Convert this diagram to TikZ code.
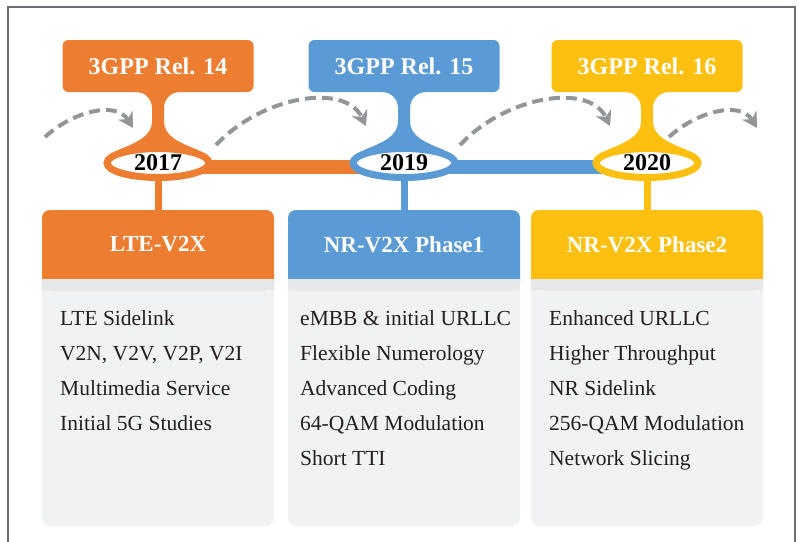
\documentclass[tikz,border=0pt]{standalone}
\usepackage{fontspec}
\setmainfont{Liberation Serif}
\usepackage{tikz}
\usetikzlibrary{shapes.geometric}
\usetikzlibrary{arrows.meta}
\pgfdeclarelayer{background}
\pgfsetlayers{background,main}

\definecolor{relorange}{HTML}{ED7D31}
\definecolor{relblue}{HTML}{5B9BD5}
\definecolor{relyellow}{HTML}{FDC010}
\definecolor{arrowgray}{HTML}{939598}
\definecolor{stripgray}{HTML}{E6E7E8}
\definecolor{cardgray}{HTML}{F1F2F4}
\definecolor{framegray}{HTML}{6D6E71}
\definecolor{textgray}{HTML}{231F20}

\tikzset{
relbox/.style={rectangle, rounded corners=6pt, minimum width=191pt, minimum height=52pt, text=white, font=\bfseries\fontsize{24}{29}\selectfont},
yearnode/.style={ellipse, fill=white, line width=7pt, minimum width=102pt, minimum height=29pt, inner sep=0pt, text=black, font=\bfseries\fontsize{24}{29}\selectfont},
genbox/.style={rectangle, minimum width=232pt, minimum height=69pt, text=white, font=\bfseries\fontsize{23}{28}\selectfont},
feat/.style={anchor=base west, inner sep=0pt, text=textgray, font=\fontsize{21.5}{26}\selectfont},
bar/.style={line width=14pt},
stem/.style={line width=7pt},
flow/.style={arrowgray, line width=4pt, dash pattern=on 11pt off 6pt, -{Stealth[length=15pt, width=17pt, inset=5pt]}}
}
\tikzset{
neck/.pic={
\fill (-22,86) -- (-22,92) .. controls (-13,92) and (-6,99) .. (-6,108) -- (-6,121) .. controls (-6,136) and (-20,142) .. (-40,150) -- (-40,160) -- (40,160) -- (40,150) .. controls (20,142) and (6,136) .. (6,121) -- (6,108) .. controls (6,99) and (13,92) .. (22,92) -- (22,86) -- cycle;
}
}

\begin{document}
\begin{tikzpicture}[x=1pt, y=-1pt]
\useasboundingbox (0,0) rectangle (799,541);

%% frame
\draw[framegray, line width=1.2pt] (8,545) -- (8,7) -- (795,7) -- (795,545);

%% cards and necks
\foreach \cx/\c in {158/relorange, 404/relblue, 647/relyellow} {
  \fill[cardgray, rounded corners=8pt] (\cx-116,210) rectangle (\cx+116,526);
  \fill[\c, rounded corners=8pt] (\cx-116,210) rectangle (\cx+116,290);
  \fill[stripgray] (\cx-116,279) rectangle (\cx+116,290);
  \pic[\c] at (\cx,0) {neck};
}

%% releases
\foreach \cx/\c/\n in {158/relorange/14, 404/relblue/15, 647/relyellow/16}
  \node[relbox, fill=\c] (rel\n) at (\cx,66) {3GPP Rel. \n};

%% years
\foreach \cx/\c/\y in {158/relorange/2017, 404/relblue/2019, 647/relyellow/2020}
  \node[yearnode, draw=\c] (yr\y) at (\cx,163) {\y};

%% generations
\node[genbox] (lte) at (158,244.5) {LTE-V2X};
\node[genbox] (nrone) at (404,244.5) {NR-V2X Phase1};
\node[genbox] (nrtwo) at (647,244.5) {NR-V2X Phase2};

\draw[stem, relorange] (yr2017) -- (lte);
\draw[stem, relblue] (yr2019) -- (nrone);
\draw[stem, relyellow] (yr2020) -- (nrtwo);

%% timeline bars
\begin{pgfonlayer}{background}
\draw[bar, relorange] ([yshift=-4pt]yr2017.center) -- ([yshift=-4pt]yr2019.center);
\draw[bar, relblue] ([yshift=-4pt]yr2019.center) -- ([yshift=-4pt]yr2020.center);
\end{pgfonlayer}

%% features
\foreach \t [count=\j] in {LTE Sidelink, {V2N, V2V, V2P, V2I}, Multimedia Service, Initial 5G Studies}
  \node[feat] (lte\j) at (60,290+35*\j) {\t};
\foreach \t [count=\j] in {eMBB \& initial URLLC, Flexible Numerology, Advanced Coding, 64-QAM Modulation, Short TTI}
  \node[feat] (nrone\j) at (300,290+35*\j) {\t};
\foreach \t [count=\j] in {Enhanced URLLC, Higher Throughput, NR Sidelink, 256-QAM Modulation, Network Slicing}
  \node[feat] (nrtwo\j) at (549,290+35*\j) {\t};

%% evolution arrows
\coordinate (go1) at (45,137);
\coordinate (to1) at (133,128);
\coordinate (go2) at (216,145);
\coordinate (to2) at (366,126);
\coordinate (go3) at (460,145);
\coordinate (to3) at (610,126);
\coordinate (go4) at (669,137);
\coordinate (to4) at (757,128);
\draw[flow] (go1) .. controls (72,112) and (116,100) .. (to1);
\draw[flow] (go2) .. controls (262,96) and (345,82) .. (to2);
\draw[flow] (go3) .. controls (506,96) and (589,82) .. (to3);
\draw[flow] (go4) .. controls (696,112) and (740,100) .. (to4);

\end{tikzpicture}
\end{document}
